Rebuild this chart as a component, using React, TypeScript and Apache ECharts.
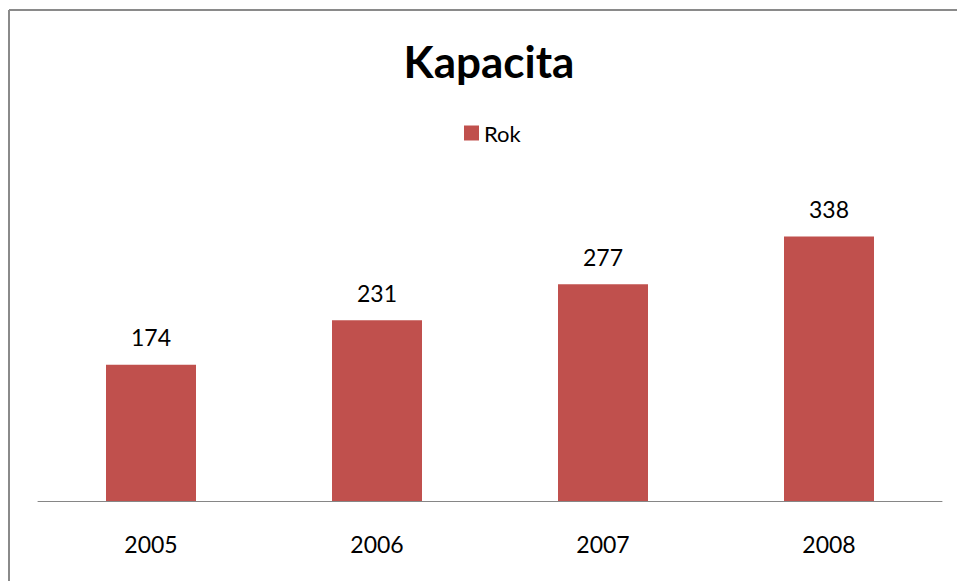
import React, { useEffect, useRef } from "react";
import * as echarts from "echarts";

const titleText = "Kapacita";
const seriesName = "Rok";
const categories = ["2005", "2006", "2007", "2008"];
const values = [174, 231, 277, 338];

const FONT = "Lato, 'Open Sans', sans-serif";

export default function App() {
  const ref = useRef<HTMLDivElement>(null);
  useEffect(() => {
    if (!ref.current) return;
    const chart = echarts.init(ref.current, null, { renderer: "svg" });
    chart.setOption({
      animation: false,
      backgroundColor: "#ffffff",
      title: {
        text: titleText,
        left: 489,
        textAlign: "center",
        top: 38,
        padding: 0,
        textStyle: {
          fontFamily: FONT,
          fontSize: 44,
          fontWeight: "bold",
          color: "#000000",
          lineHeight: 46,
        },
      },
      legend: {
        data: [seriesName],
        left: 464,
        top: 121,
        padding: 0,
        itemWidth: 15,
        itemHeight: 15,
        icon: "rect",
        textStyle: {
          fontFamily: FONT,
          fontSize: 22,
          color: "#000000",
          lineHeight: 24,
        },
      },
      grid: { left: 38, right: 15, top: 188, bottom: 80, containLabel: false },
      xAxis: {
        type: "category",
        data: categories,
        axisLine: { lineStyle: { color: "#868686", width: 1 } },
        axisTick: { show: false },
        axisLabel: {
          fontFamily: FONT,
          fontSize: 23,
          lineHeight: 23,
          color: "#000000",
          margin: 31,
        },
      },
      yAxis: {
        type: "value",
        min: 0,
        max: 400,
        show: false,
      },
      series: [
        {
          name: seriesName,
          type: "bar",
          data: values,
          barWidth: 90,
          itemStyle: { color: "#C0504D" },
          label: {
            show: true,
            position: "top",
            distance: 16,
            fontFamily: FONT,
            fontSize: 23,
            lineHeight: 23,
            color: "#000000",
          },
        },
      ],
      graphic: [
        {
          type: "line",
          shape: { x1: 9, y1: 10, x2: 957, y2: 10 },
          style: { stroke: "#8a8a8a", lineWidth: 2 },
        },
        {
          type: "line",
          shape: { x1: 9, y1: 10, x2: 9, y2: 581 },
          style: { stroke: "#8a8a8a", lineWidth: 2 },
        },
      ],
    });
    return () => chart.dispose();
  }, []);
  return (
    <div
      ref={ref}
      style={{ position: "fixed", left: 0, top: 0, width: 957, height: 581 }}
    />
  );
}
